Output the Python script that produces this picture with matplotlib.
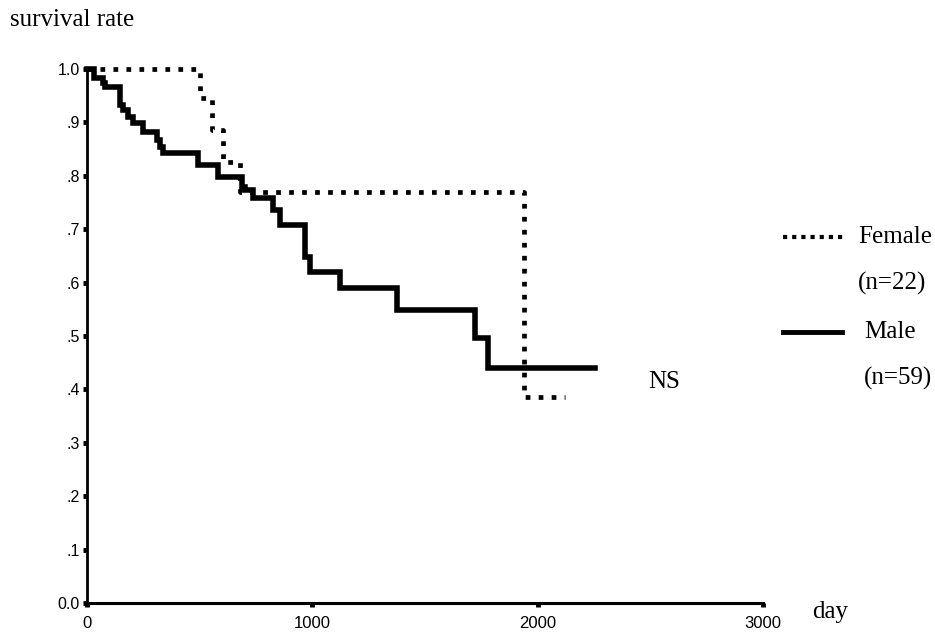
import numpy as np
import matplotlib.pyplot as plt
from matplotlib.lines import Line2D

# datos (dias, tasa de supervivencia)
dias_hombre = [0, 30, 71, 80, 146, 160, 182, 204, 249, 311, 324, 337, 493, 581, 688, 701,
               737, 826, 857, 968, 990, 1123, 1376, 1722, 1780, 2255]
surv_hombre = [1.0, 0.983, 0.974, 0.966, 0.933, 0.923, 0.91, 0.899, 0.882, 0.867, 0.854,
               0.843, 0.82, 0.798, 0.779, 0.773, 0.758, 0.736, 0.708, 0.648, 0.62, 0.59,
               0.549, 0.496, 0.44, 0.44]

dias_mujer = [0, 502, 555, 604, 679, 1940, 2122]
surv_mujer = [1.0, 0.945, 0.885, 0.825, 0.77, 0.386, 0.386]

yticks = [0.0, 0.1, 0.2, 0.3, 0.4, 0.5, 0.6, 0.7, 0.8, 0.9, 1.0]
ylabels = ["0.0", ".1", ".2", ".3", ".4", ".5", ".6", ".7", ".8", ".9", "1.0"]
xticks = [0, 1000, 2000, 3000]

serif = "Liberation Serif"
sans = "Liberation Sans"

fig = plt.figure(figsize=(9.35, 6.34), dpi=100)
ax = fig.add_axes([87 / 935, 31 / 634, 676 / 935, 534 / 634])

ax.step(dias_hombre, surv_hombre, where="post", color="black", lw=4.0,
        solid_joinstyle="miter", clip_on=False)
ax.step(dias_mujer, surv_mujer, where="post", color="black", lw=3.4,
        linestyle=(0, (1, 1.75)), dash_capstyle="butt", clip_on=False)

ax.set_xlim(0, 3000)
ax.set_ylim(0, 1)
ax.spines["top"].set_visible(False)
ax.spines["right"].set_visible(False)
ax.spines["left"].set_linewidth(2)
ax.spines["bottom"].set_linewidth(2.2)

ax.set_xticks(xticks)
ax.set_xticklabels([str(t) for t in xticks], fontfamily=sans, fontsize=12)
ax.set_yticks(yticks)
ax.set_yticklabels(ylabels, fontfamily=sans, fontsize=11.5)
ax.tick_params(axis="both", direction="out", length=3, width=3.5, color="black")
ax.tick_params(axis="x", pad=6)
ax.tick_params(axis="y", pad=2)

fig.text(10 / 935, 1 - 20 / 634, "survival rate", fontfamily=serif, fontsize=18,
         ha="left", va="center")
fig.text(812 / 935, 1 - 612 / 634, "day", fontfamily=serif, fontsize=18,
         ha="left", va="center")
fig.text(648 / 935, 1 - 382 / 634, "NS", fontfamily=serif, fontsize=18,
         ha="left", va="center")

# leyenda manual
fig.add_artist(Line2D([783 / 935, 843 / 935], [1 - 237 / 634, 1 - 237 / 634],
                      color="black", lw=3, linestyle=(0, (1, 1.2)), dash_capstyle="butt"))
fig.add_artist(Line2D([783 / 935, 842 / 935], [1 - 332 / 634, 1 - 332 / 634],
                      color="black", lw=3.5))
fig.text(858 / 935, 1 - 237 / 634, "Female", fontfamily=serif, fontsize=18, ha="left", va="center")
fig.text(858 / 935, 1 - 283 / 634, "(n=22)", fontfamily=serif, fontsize=18, ha="left", va="center")
fig.text(864 / 935, 1 - 332 / 634, "Male", fontfamily=serif, fontsize=18, ha="left", va="center")
fig.text(864 / 935, 1 - 378 / 634, "(n=59)", fontfamily=serif, fontsize=18, ha="left", va="center")

fig.savefig("out.png", dpi=100)
